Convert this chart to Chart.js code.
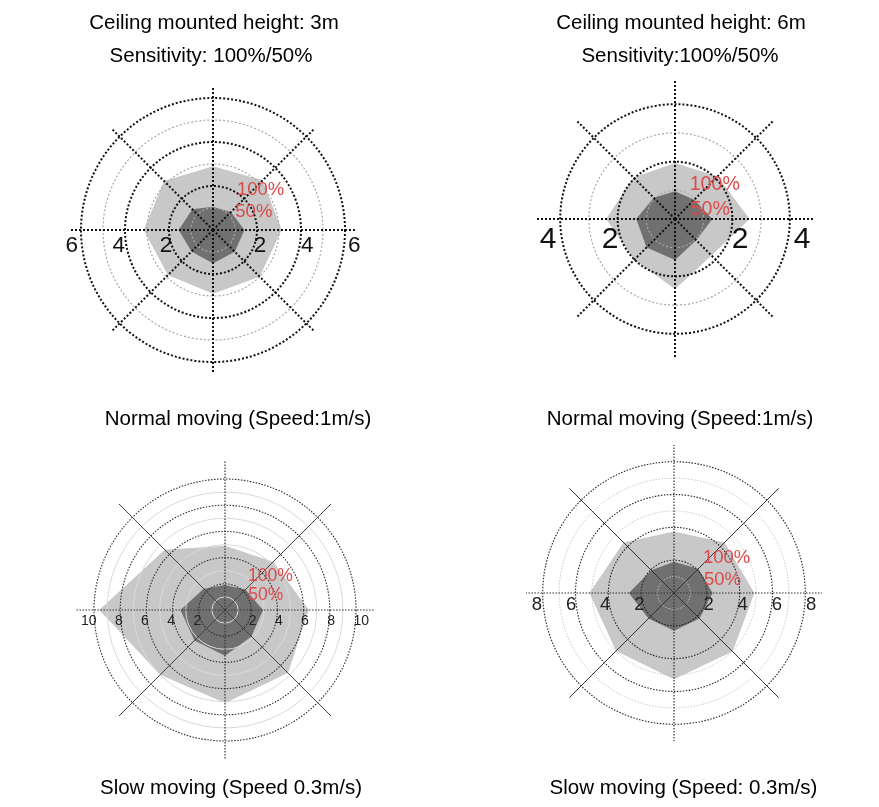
<!DOCTYPE html>
<html><head><meta charset="utf-8">
<script src="https://cdn.jsdelivr.net/npm/chart.js@4.4.1/dist/chart.umd.min.js"></script>
<style>
html,body{margin:0;padding:0;background:#fff;}
body{width:879px;height:807px;position:relative;overflow:hidden;}
canvas{position:absolute;left:0;top:0;}
.t{position:absolute;width:400px;text-align:center;font:20.5px/20.5px 'Liberation Sans',Arial,sans-serif;color:#000;white-space:nowrap;}
</style></head><body>
<canvas id="c1" width="879" height="807"></canvas>
<canvas id="c2" width="879" height="807"></canvas>
<canvas id="c3" width="879" height="807"></canvas>
<canvas id="c4" width="879" height="807"></canvas>
<script>
// Directions, clockwise from top
const directions = ['N', 'NE', 'E', 'SE', 'S', 'SW', 'W', 'NW'];

// Detection range (m) – normal moving, ceiling 3 m
const normal3m_100 = [2.9, 3.2, 3.12, 3.0, 2.9, 2.9, 3.15, 3.15];
const normal3m_50  = [1.06, 1.15, 1.43, 1.4, 1.52, 1.38, 1.56, 1.33];
// normal moving, ceiling 6 m
const normal6m_100 = [1.95, 2.1, 2.6, 1.8, 2.45, 2.0, 2.4, 2.05];
const normal6m_50  = [0.97, 0.95, 1.3, 1.05, 1.43, 1.4, 1.35, 1.05];
// slow moving, ceiling 3 m
const slow3m_100 = [4.9, 5.2, 6.4, 6.8, 7.1, 7.0, 9.6, 6.5];
const slow3m_50  = [1.9, 2.2, 2.9, 2.85, 3.5, 3.3, 3.4, 2.3];
// slow moving, ceiling 6 m
const slow6m_100 = [3.75, 4.35, 4.9, 5.05, 5.25, 5.0, 5.15, 4.35];
const slow6m_50  = [1.9, 2.1, 2.35, 2.2, 2.3, 2.2, 2.75, 1.95];

// Axis tick labels
const ticksNormal3m = [2, 4, 6];
const ticksNormal6m = [2, 4];
const ticksSlow3m = [2, 4, 6, 8, 10];
const ticksSlow6m = [2, 4, 6, 8];

const seriesLabels = ['50%', '100%'];

const titles = [
  ['Ceiling mounted height: 3m', 214, 22],
  ['Sensitivity: 100%/50%', 211, 55],
  ['Ceiling mounted height: 6m', 681, 22],
  ['Sensitivity:100%/50%', 680, 55],
  ['Normal moving (Speed:1m/s)', 238, 417.5],
  ['Normal moving (Speed:1m/s)', 680, 417.5],
  ['Slow moving (Speed 0.3m/s)', 231, 787],
  ['Slow moving (Speed: 0.3m/s)', 683.5, 787]
];
titles.forEach(([txt, cx, cy]) => {
  const d = document.createElement('div');
  d.className = 't';
  d.textContent = txt;
  d.style.left = (cx - 200) + 'px';
  d.style.top = (cy - 10) + 'px';
  document.body.appendChild(d);
});

const LIGHT = 'rgb(200,200,200)';
const DARK = 'rgb(112,112,112)';
const RED = '#dc4a4a';
const W = 879, H = 807;

function annotPlugin(cfg) {
  return {
    id: 'annot',
    afterDraw(chart) {
      const s = chart.scales.r, ctx = chart.ctx;
      ctx.save();
      ctx.fillStyle = cfg.tickColor;
      ctx.font = cfg.tickSize + 'px "Liberation Sans", Arial, sans-serif';
      ctx.textBaseline = 'alphabetic';
      const base = s.yCenter + cfg.tickDy + 0.358 * cfg.tickSize;
      cfg.ticks.forEach(v => {
        const d = s.getDistanceFromCenterForValue(v) * cfg.k + cfg.off;
        if (cfg.mode === 'inner') {
          ctx.textAlign = 'right';
          ctx.fillText(String(v), s.xCenter - d, base);
          ctx.textAlign = 'left';
          ctx.fillText(String(v), s.xCenter + d, base);
        } else {
          ctx.textAlign = 'center';
          ctx.fillText(String(v), s.xCenter - d, base);
          ctx.fillText(String(v), s.xCenter + d, base);
        }
      });
      ctx.fillStyle = RED;
      ctx.textAlign = 'left';
      ctx.font = cfg.redSize + 'px "Liberation Sans", Arial, sans-serif';
      ctx.fillText(seriesLabels[1], s.xCenter + cfg.r100[0] - 2, s.yCenter + cfg.r100[1] + 0.358 * cfg.redSize);
      ctx.fillText(seriesLabels[0], s.xCenter + cfg.r50[0] - 1, s.yCenter + cfg.r50[1] + 0.358 * cfg.redSize);
      ctx.restore();
    }
  };
}

function makeChart(id, cfg) {
  const R = cfg.R, cx = cfg.cx, cy = cfg.cy;
  const isRing = v => Math.abs(v - Math.round(v)) < 1e-6 && v <= cfg.ringMax && v > 0;
  new Chart(document.getElementById(id), {
    type: 'radar',
    data: {
      labels: directions,
      datasets: [
        { label: seriesLabels[0], data: cfg.d50, backgroundColor: DARK, borderWidth: 0, pointRadius: 0, fill: 'origin' },
        { label: seriesLabels[1], data: cfg.d100, backgroundColor: LIGHT, borderWidth: 0, pointRadius: 0, fill: 'origin' }
      ]
    },
    options: {
      responsive: false,
      animation: false,
      events: [],
      devicePixelRatio: 1,
      layout: { padding: { left: cx - R, right: W - cx - R, top: cy - R, bottom: H - cy - R } },
      plugins: { legend: { display: false }, tooltip: { enabled: false }, title: { display: false } },
      elements: { line: { tension: 0 } },
      scales: {
        r: {
          min: 0,
          max: R / cfg.ppu,
          ticks: { display: false, stepSize: 1 },
          pointLabels: { display: false },
          grid: {
            z: 1,
            circular: true,
            color: c => {
              const v = c.tick ? c.tick.value : 0;
              if (!isRing(v)) return 'rgba(0,0,0,0)';
              return Math.round(v) % 2 === 0 ? cfg.blackRing.color : cfg.grayRing.color;
            },
            lineWidth: c => {
              const v = c.tick ? c.tick.value : 0;
              return Math.round(v) % 2 === 0 ? cfg.blackRing.width : cfg.grayRing.width;
            }
          },
          border: {
            dash: c => {
              const v = c.tick ? c.tick.value : 0;
              return Math.round(v) % 2 === 0 ? cfg.blackRing.dash : cfg.grayRing.dash;
            }
          },
          angleLines: {
            color: c => (c.index % 2 === 0 ? cfg.axisLine.color : cfg.diagLine.color),
            lineWidth: c => (c.index % 2 === 0 ? cfg.axisLine.width : cfg.diagLine.width),
            borderDash: c => (c.index % 2 === 0 ? cfg.axisLine.dash : cfg.diagLine.dash)
          }
        }
      }
    },
    plugins: [annotPlugin(cfg)]
  });
}

const boldBlack = { color: '#111', width: 2, dash: [2, 2] };
const boldGray = { color: '#a8a8a8', width: 1.2, dash: [2, 2] };

makeChart('c1', {
  cx: 213, cy: 230, R: 143, ppu: 22, ringMax: 6,
  d100: normal3m_100, d50: normal3m_50,
  blackRing: boldBlack, grayRing: boldGray, axisLine: boldBlack, diagLine: boldBlack,
  ticks: ticksNormal3m, tickSize: 22.5, tickColor: '#111', tickDy: 14, k: 1.07, off: 0, mode: 'center',
  redSize: 18.5, r100: [26, -42], r50: [23.3, -20]
});
makeChart('c2', {
  cx: 675, cy: 219, R: 139, ppu: 28.7, ringMax: 4,
  d100: normal6m_100, d50: normal6m_50,
  blackRing: boldBlack, grayRing: boldGray, axisLine: boldBlack, diagLine: boldBlack,
  ticks: ticksNormal6m, tickSize: 30, tickColor: '#111', tickDy: 18.3, k: 1.08, off: 3, mode: 'center',
  redSize: 19.6, r100: [16.7, -36.5], r50: [16.7, -11]
});
makeChart('c3', {
  cx: 225, cy: 610, R: 150, ppu: 13.1, ringMax: 10,
  d100: slow3m_100, d50: slow3m_50,
  blackRing: { color: '#2a2a2a', width: 1.1, dash: [1.5, 1.5] },
  grayRing: { color: '#d9d9d9', width: 1, dash: [] },
  axisLine: { color: '#333', width: 1.2, dash: [1.5, 1.5] },
  diagLine: { color: '#444', width: 1, dash: [] },
  ticks: ticksSlow3m, tickSize: 14, tickColor: '#222', tickDy: 9.7, k: 1, off: -2.5, mode: 'inner',
  redSize: 17.5, r100: [25, -35], r50: [24.3, -16]
});
makeChart('c4', {
  cx: 674, cy: 593, R: 148, ppu: 16.41, ringMax: 8,
  d100: slow6m_100, d50: slow6m_50,
  blackRing: { color: '#222', width: 1.1, dash: [1.5, 1.5] },
  grayRing: { color: '#c4c4c4', width: 1, dash: [1.5, 1.5] },
  axisLine: { color: '#333', width: 1.2, dash: [1.5, 1.5] },
  diagLine: { color: '#333', width: 1, dash: [] },
  ticks: ticksSlow6m, tickSize: 18.5, tickColor: '#222', tickDy: 10.3, k: 1.04, off: 0.5, mode: 'center',
  redSize: 18.5, r100: [31, -36.3], r50: [31, -15]
});
</script>
</body></html>
